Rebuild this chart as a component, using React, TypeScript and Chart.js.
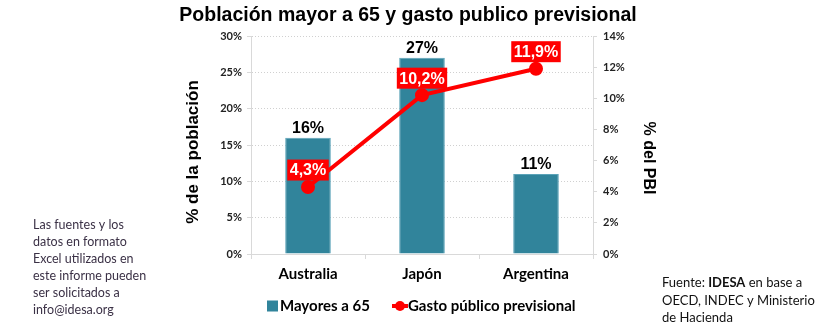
import React, { useEffect, useRef } from "react";
import { Chart, registerables } from "chart.js";

Chart.register(...registerables);

const categories = ["Australia", "Japón", "Argentina"];
const poblacion = [16, 27, 11];
const gasto = [4.3, 10.2, 11.9];
const barLabels = ["16%", "27%", "11%"];
const lineLabels = ["4,3%", "10,2%", "11,9%"];
const leftTicksMax = 30;
const rightTicksMax = 14;

const TITLE = "Población mayor a 65 y gasto publico previsional";
const LEFT_AXIS_TITLE = "% de la población";
const RIGHT_AXIS_TITLE = "% del PBI";
const SERIES_BAR = "Mayores a 65";
const SERIES_LINE = "Gasto público previsional";
const NOTE_LINES = [
  "Las fuentes y los",
  "datos en formato",
  "Excel utilizados en",
  "este informe pueden",
  "ser solicitados a",
  "info@idesa.org",
];

const BAR_COLOR = "#31849b";
const RED = "#ff0000";
const CAL = "Lato, 'Open Sans', sans-serif";
const ARIAL = "'Liberation Sans', Arial, sans-serif";

const decorPlugin = {
  id: "decor",
  afterDatasetsDraw(chart: any) {
    const ctx = chart.ctx;
    ctx.save();
    // bar labels
    const barMeta = chart.getDatasetMeta(0);
    ctx.font = `bold 16px ${ARIAL}`;
    ctx.fillStyle = "#000";
    ctx.textAlign = "center";
    ctx.textBaseline = "alphabetic";
    barMeta.data.forEach((el: any, i: number) => {
      ctx.fillText(barLabels[i], el.x, el.y - 5);
    });
    // line labels
    const lineMeta = chart.getDatasetMeta(1);
    ctx.font = `bold 16px ${ARIAL}`;
    lineMeta.data.forEach((el: any, i: number) => {
      const t = lineLabels[i];
      const w = ctx.measureText(t).width + 5;
      const h = 21;
      const cy = el.y - 17;
      ctx.fillStyle = RED;
      ctx.fillRect(el.x - w / 2, cy - h / 2, w, h);
      ctx.fillStyle = "#fff";
      ctx.textBaseline = "middle";
      ctx.fillText(t, el.x, cy + 1);
    });
    ctx.restore();
  },
  afterDraw(chart: any) {
    const ctx = chart.ctx;
    ctx.save();
    // title
    ctx.fillStyle = "#000";
    ctx.font = `bold 19.5px ${ARIAL}`;
    ctx.textAlign = "center";
    ctx.textBaseline = "middle";
    ctx.fillText(TITLE, 408, 16);

    // left axis title
    ctx.save();
    ctx.translate(193, 152);
    ctx.rotate(-Math.PI / 2);
    ctx.font = `bold 17px ${ARIAL}`;
    ctx.fillText(LEFT_AXIS_TITLE, 0, 0);
    ctx.restore();

    // right axis title
    ctx.save();
    ctx.translate(648, 158);
    ctx.rotate(Math.PI / 2);
    ctx.font = `bold 16px ${ARIAL}`;
    ctx.fillText(RIGHT_AXIS_TITLE, 0, 0);
    ctx.restore();

    // legend
    const ly = 306;
    ctx.fillStyle = BAR_COLOR;
    ctx.fillRect(267, ly - 5.5, 11, 11);
    ctx.fillStyle = "#000";
    ctx.font = `bold 15px ${CAL}`;
    ctx.textAlign = "left";
    ctx.fillText(SERIES_BAR, 280, ly);
    ctx.strokeStyle = RED;
    ctx.lineWidth = 4;
    ctx.beginPath();
    ctx.moveTo(392, ly);
    ctx.lineTo(408, ly);
    ctx.stroke();
    ctx.fillStyle = RED;
    ctx.beginPath();
    ctx.arc(400, ly, 5, 0, Math.PI * 2);
    ctx.fill();
    ctx.fillStyle = "#000";
    ctx.fillText(SERIES_LINE, 408, ly);

    // left note
    ctx.font = `12.5px ${CAL}`;
    ctx.fillStyle = "#3b3146";
    NOTE_LINES.forEach((l, i) => ctx.fillText(l, 33, 225 + i * 17));

    // source note
    ctx.fillStyle = "#111";
    ctx.font = `13px ${CAL}`;
    let x = 662;
    ctx.fillText("Fuente: ", x, 283);
    x += ctx.measureText("Fuente: ").width;
    ctx.font = `bold 13px ${CAL}`;
    ctx.fillText("IDESA", x, 283);
    x += ctx.measureText("IDESA").width;
    ctx.font = `13px ${CAL}`;
    ctx.fillText(" en base a", x, 283);
    ctx.fillText("OECD, INDEC y Ministerio", 662, 301);
    ctx.fillText("de Hacienda", 662, 318);
    ctx.restore();
  },
};

export default function App() {
  const ref = useRef<HTMLCanvasElement | null>(null);
  useEffect(() => {
    if (!ref.current) return;
    const chart = new Chart(ref.current, {
      type: "bar",
      data: {
        labels: categories,
        datasets: [
          {
            type: "bar",
            label: SERIES_BAR,
            data: poblacion,
            backgroundColor: BAR_COLOR,
            borderColor: "#5ba3b8",
            borderWidth: 1,
            barPercentage: 0.4,
            categoryPercentage: 1,
            yAxisID: "y",
            order: 2,
          },
          {
            type: "line",
            label: SERIES_LINE,
            data: gasto,
            borderColor: RED,
            backgroundColor: RED,
            borderWidth: 4,
            pointRadius: 5,
            pointBackgroundColor: RED,
            pointBorderColor: RED,
            yAxisID: "y1",
            order: 1,
          },
        ],
      } as any,
      options: {
        responsive: false,
        animation: false,
        layout: { padding: { left: 180, right: 153, top: 36, bottom: 36 } },
        plugins: {
          legend: { display: false },
          title: { display: false },
          tooltip: { enabled: false },
        },
        scales: {
          x: {
            grid: {
              display: true,
              drawOnChartArea: false,
              offset: true,
              tickLength: 5,
              color: "#d9d9d9",
            },
            border: { display: true, color: "#d9d9d9", width: 1 },
            ticks: {
              color: "#000",
              font: { family: CAL, size: 15, weight: "bold" },
              padding: 6,
            },
            afterFit: (s: any) => {
              s.height = 40;
            },
          },
          y: {
            position: "left",
            min: 0,
            max: leftTicksMax,
            ticks: {
              stepSize: 5,
              callback: (v: any) => v + "%",
              color: "#222",
              font: { family: CAL, size: 11, weight: "bold" },
              padding: 5,
            },
            grid: {
              color: "#d0d0d0",
              tickLength: 4,
              tickColor: "#d9d9d9",
              tickBorderDash: [],
            },
            border: { display: true, color: "#d9d9d9", dash: [1, 2] },
            afterFit: (s: any) => {
              s.width = 71;
            },
          },
          y1: {
            position: "right",
            min: 0,
            max: rightTicksMax,
            ticks: {
              stepSize: 2,
              callback: (v: any) => v + "%",
              color: "#222",
              font: { family: CAL, size: 11, weight: "bold" },
              padding: 6,
            },
            grid: {
              drawOnChartArea: false,
              tickLength: 4,
              color: "#d9d9d9",
            },
            border: { display: true, color: "#d9d9d9" },
            afterFit: (s: any) => {
              s.width = 71;
            },
          },
        },
      } as any,
      plugins: [decorPlugin],
    });
    return () => chart.destroy();
  }, []);
  return (
    <div style={{ position: "absolute", left: 0, top: 0, width: 817, height: 330, background: "#fff" }}>
      <canvas ref={ref} width={817} height={330} style={{ width: 817, height: 330, display: "block" }} />
    </div>
  );
}
